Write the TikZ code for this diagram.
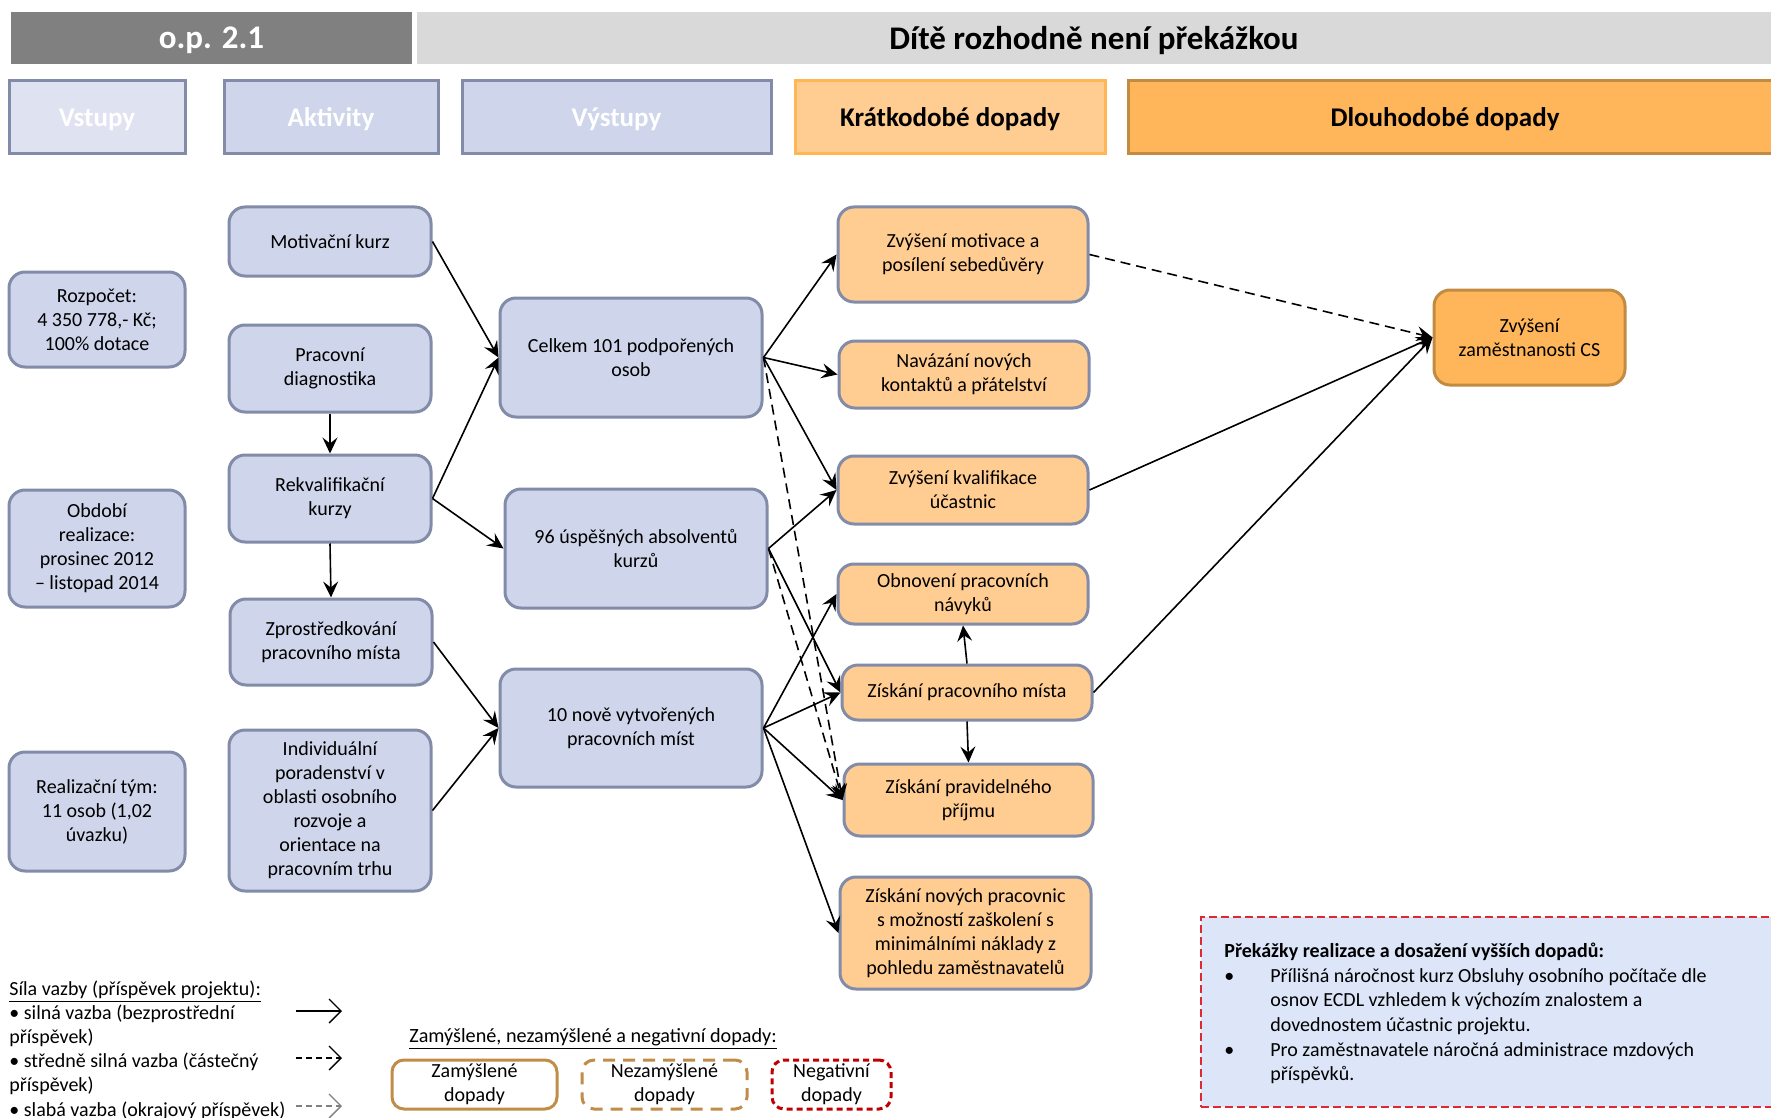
\documentclass[tikz,border=0pt]{standalone}
\usepackage{fontspec}
\setmainfont{Carlito}
\usetikzlibrary{arrows.meta}
\definecolor{hdark}{RGB}{128,128,128}
\definecolor{hlight}{RGB}{217,217,217}
\definecolor{bfill}{RGB}{207,213,234}
\definecolor{bfilllite}{RGB}{223,227,241}
\definecolor{bdraw}{RGB}{130,140,168}
\definecolor{ofill}{RGB}{255,204,145}
\definecolor{obord}{RGB}{255,182,84}
\definecolor{lfill}{RGB}{255,182,90}
\definecolor{ldraw}{RGB}{193,139,66}
\definecolor{brn}{RGB}{192,140,72}
\definecolor{negred}{RGB}{192,0,0}
\definecolor{pfill}{RGB}{220,230,248}
\definecolor{pred}{RGB}{222,40,50}
\newcommand\nfont{\fontsize{10}{12}\selectfont}
\newcommand\rbx[7]{\node[#6, minimum width={(#4-#2)*0.5pt}, minimum height={(#5-#3)*0.5pt}] (#1) at ({(#2+#4)/2},{(#3+#5)/2}) {#7};}
\tikzset{
  hdr/.style={inner sep=0pt, text depth=-2.4pt, font=\fontsize{16.5}{18}\selectfont\bfseries},
  catbox/.style={line width=1.5pt, inner sep=0pt, text depth=-2.4pt, font=\fontsize{13.5}{15}\selectfont\bfseries},
  bnode/.style={rounded corners=8pt, draw=bdraw, fill=bfill, line width=1.5pt, align=center, font=\nfont, inner sep=2pt},
  onode/.style={bnode, fill=ofill},
  lnode/.style={bnode, fill=lfill, draw=ldraw},
  legbox/.style={rounded corners=6pt, line width=1.5pt, align=center, font=\nfont, inner sep=1pt},
  conn/.style={-{Stealth[length=8pt,width=7.5pt,inset=3pt]}, line width=0.8pt},
  dconn/.style={conn, dash pattern=on 5pt off 3pt},
  legarrow/.style={-{Straight Barb[length=6pt,width=12pt]}, line width=0.7pt}
}
\begin{document}
\begin{tikzpicture}[x=0.5pt,y=-0.5pt]
\useasboundingbox[fill=white] (0,0) rectangle (1771,1118);
% header
\rbx{hA}{11}{12}{412}{64}{hdr, fill=hdark, text=white}{o.p. 2.1}
\rbx{hB}{417}{12}{1771}{64}{hdr, fill=hlight}{Dítě rozhodně není překážkou}
% categories
\rbx{cV}{9}{81}{185}{154}{catbox, draw=bdraw, fill=bfilllite, text=white}{Vstupy}
\rbx{cA}{224}{81}{438}{154}{catbox, draw=bdraw, fill=bfill, text=white}{Aktivity}
\rbx{cVy}{462}{81}{771}{154}{catbox, draw=bdraw, fill=bfill, text=white}{Výstupy}
\rbx{cK}{795}{81}{1105}{154}{catbox, draw=obord, fill=ofill}{Krátkodobé dopady}
\rbx{cD}{1128}{81}{1780}{154}{catbox, draw=ldraw, fill=lfill}{\hspace*{-9pt}Dlouhodobé dopady}
% inputs
\rbx{in1}{9}{272}{185}{367}{bnode}{Rozpočet:\\4 350 778,- Kč;\\100\% dotace}
\rbx{in2}{9}{490}{185}{607}{bnode}{Období\\realizace:\\prosinec 2012\\– listopad 2014}
\rbx{in3}{9}{752}{185}{871}{bnode}{Realizační tým:\\11 osob (1,02\\úvazku)}
% activities
\rbx{a1}{229}{207}{431}{276}{bnode}{Motivační kurz}
\rbx{a2}{229}{325}{431}{412}{bnode}{Pracovní\\diagnostika}
\rbx{a3}{229}{455}{431}{542}{bnode}{Rekvalifikační\\kurzy}
\rbx{a4}{230}{599}{432}{685}{bnode}{Zprostředkování\\pracovního místa}
\rbx{a5}{229}{730}{431}{891}{bnode}{Individuální\\poradenství v\\oblasti osobního\\rozvoje a\\orientace na\\pracovním trhu}
% outputs
\rbx{o1}{500}{298}{762}{417}{bnode}{Celkem 101 podpořených\\osob}
\rbx{o2}{505}{489}{767}{608}{bnode}{96 úspěšných absolventů\\kurzů}
\rbx{o3}{500}{669}{762}{787}{bnode}{10 nově vytvořených\\pracovních míst}
% short-term
\rbx{s1}{838}{207}{1088}{302}{onode}{Zvýšení motivace a\\posílení sebedůvěry}
\rbx{s2}{839}{341}{1089}{408}{onode}{Navázání nových\\kontaktů a přátelství}
\rbx{s3}{838}{456}{1088}{524}{onode}{Zvýšení kvalifikace\\účastnic}
\rbx{s4}{838}{564}{1088}{624}{onode}{Obnovení pracovních\\návyků}
\rbx{s5}{842}{665}{1092}{720}{onode}{Získání pracovního místa}
\rbx{s6}{844}{764}{1093}{836}{onode}{Získání pravidelného\\příjmu}
\rbx{s7}{840}{877}{1091}{989}{onode}{Získání nových pracovnic\\s možností zaškolení s\\minimálními náklady z\\pohledu zaměstnavatelů}
% long-term
\rbx{l1}{1434}{290}{1625}{385}{lnode}{Zvýšení\\zaměstnanosti CS}
% connectors
\draw[conn] (a2.south) -- (a3.north);
\draw[conn] (a3.south) -- (a4.north);
\draw[conn] (a1.east) -- (o1.west);
\draw[conn] (a3.east) -- (o1.west);
\draw[conn] (a3.east) -- (o2.west);
\draw[conn] (a4.east) -- (o3.west);
\draw[conn] (a5.east) -- (o3.west);
\draw[conn] (o1.east) -- (s1.west);
\draw[conn] (o1.east) -- (s2.west);
\draw[conn] (o1.east) -- (s3.west);
\draw[dconn] (o1.east) -- (s6.west);
\draw[conn] (o2.east) -- (s3.west);
\draw[conn] (o2.east) -- (s5.west);
\draw[dconn] (o2.east) -- (s6.west);
\draw[conn] (o3.east) -- (s4.west);
\draw[conn] (o3.east) -- (s5.west);
\draw[conn] (o3.east) -- (s6.west);
\draw[conn] (o3.east) -- (s7.west);
\draw[conn] (s5.north) -- (s4.south);
\draw[conn] (s5.south) -- (s6.north);
\draw[dconn] (s1.east) -- (l1.west);
\draw[conn] (s3.east) -- (l1.west);
\draw[conn] (s5.east) -- (l1.west);
% legend: link strength
\node[anchor=north west, inner sep=0pt, align=left, font=\fontsize{10}{12.1}\selectfont] (legtext) at (9,980)
 {\underline{Síla vazby (příspěvek projektu):}\\• silná vazba (bezprostřední\\příspěvek)\\• středně silná vazba (částečný\\příspěvek)\\• slabá vazba (okrajový příspěvek)};
\coordinate (la1) at (296,1011); \coordinate (lb1) at (342,1011);
\coordinate (la2) at (296,1058); \coordinate (lb2) at (342,1058);
\coordinate (la3) at (296,1106); \coordinate (lb3) at (342,1106);
\draw[legarrow] (la1) -- (lb1);
\draw[legarrow, dash pattern=on 3pt off 2pt] (la2) -- (lb2);
\draw[legarrow, gray, dash pattern=on 3pt off 2pt] (la3) -- (lb3);
% legend: intended / unintended / negative
\node[anchor=west, inner sep=0pt, font=\fontsize{10.1}{12}\selectfont] (legtitle2) at (409,1039) {\underline{Zamýšlené, nezamýšlené a negativní dopady:}};
\rbx{lg1}{392}{1060}{557}{1109}{legbox, draw=brn}{Zamýšlené\\dopady}
\rbx{lg2}{582}{1060}{747}{1109}{legbox, draw=brn, dash pattern=on 6pt off 4pt}{Nezamýšlené\\dopady}
\rbx{lg3}{772}{1060}{891}{1109}{legbox, draw=negred, dash pattern=on 3pt off 2pt}{Negativní\\dopady}
% obstacles box
\rbx{pbox}{1201}{917}{1780}{1107}{draw=pred, fill=pfill, line width=0.9pt, dash pattern=on 4pt off 2pt}{}
\node[anchor=north west, inner sep=0pt, font=\fontsize{10}{12.3}\selectfont] (ptext) at (1224,940)
 {\begin{tabular}{@{}p{23pt}@{}l@{}}
 \multicolumn{2}{@{}l@{}}{\bfseries Překážky realizace a dosažení vyšších dopadů:}\\
 • & Přílišná náročnost kurz Obsluhy osobního počítače dle\\
   & osnov ECDL vzhledem k výchozím znalostem a\\
   & dovednostem účastnic projektu.\\
 • & Pro zaměstnavatele náročná administrace mzdových\\
   & příspěvků.
 \end{tabular}};
\end{tikzpicture}
\end{document}
